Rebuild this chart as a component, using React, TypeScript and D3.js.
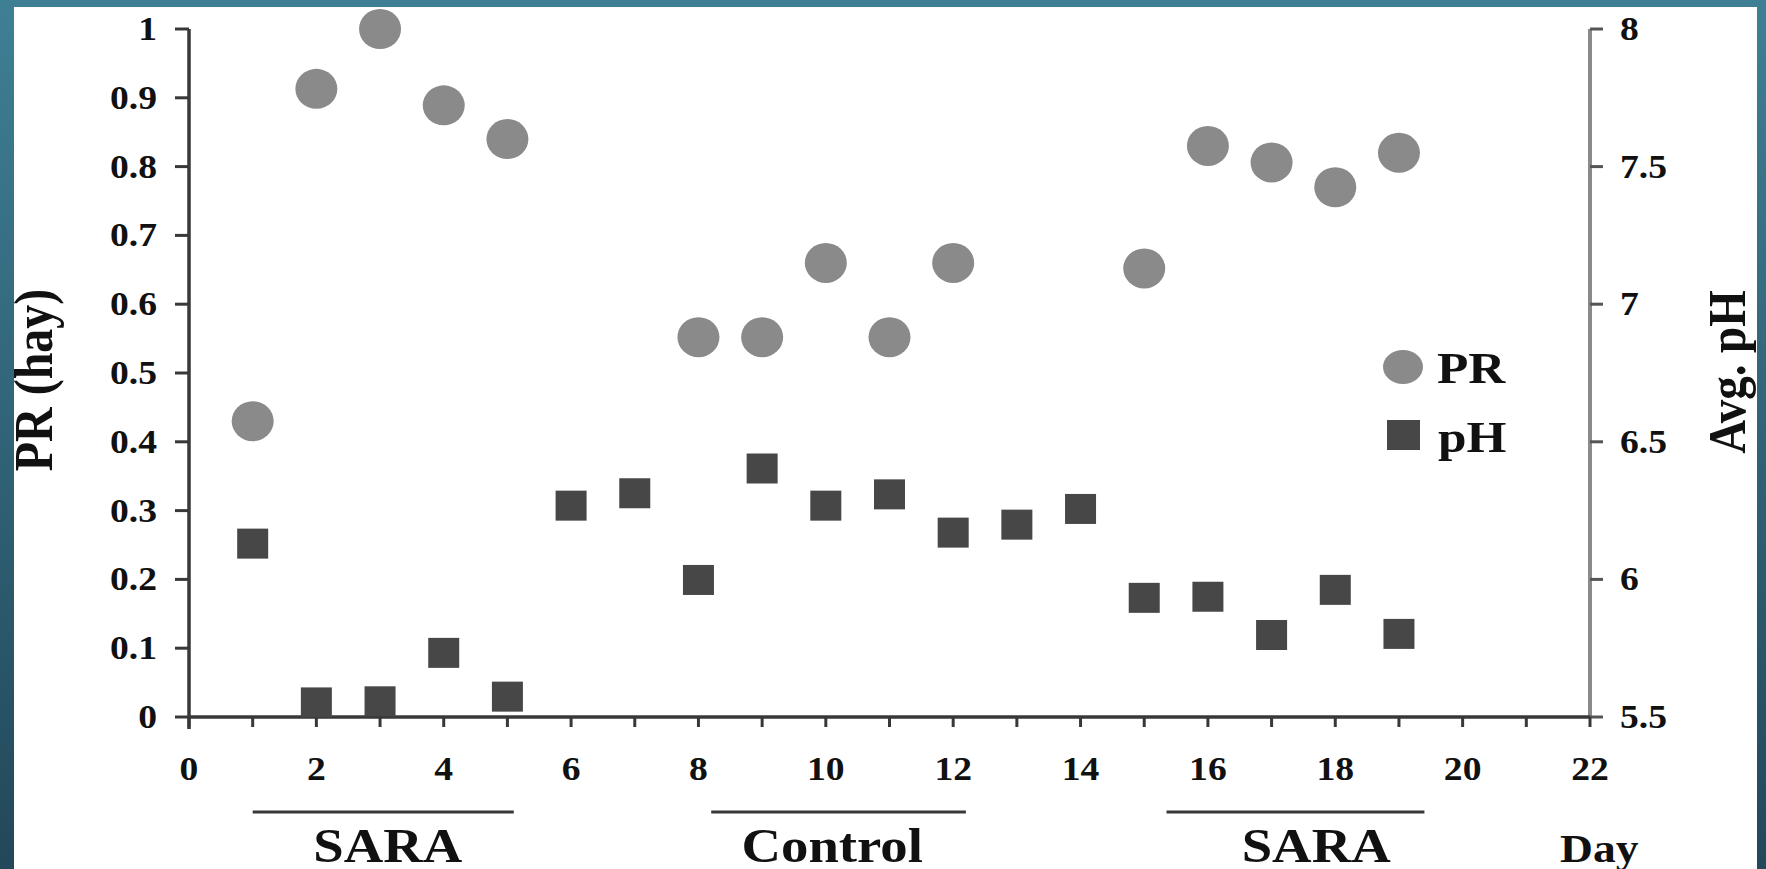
import React, { useEffect } from 'react';
import * as d3 from 'd3';

// days 1..19
const days = [1, 2, 3, 4, 5, 6, 7, 8, 9, 10, 11, 12, 13, 14, 15, 16, 17, 18, 19];

// PR (hay) – only measured on some days
const prDays = [1, 2, 3, 4, 5, 8, 9, 10, 11, 12, 15, 16, 17, 18, 19];
const prValues = [0.43, 0.913, 1.0, 0.889, 0.84, 0.552, 0.552, 0.66, 0.552, 0.66, 0.652, 0.83, 0.806, 0.77, 0.82];

// average pH per day
const phValues = [6.13, 5.553, 5.557, 5.733, 5.574, 6.268, 6.313, 5.998, 6.403, 6.268, 6.309, 6.17, 6.199, 6.256, 5.933, 5.937, 5.798, 5.962, 5.802];

const xTicks = d3.range(0, 23, 1);
const xTickLabels = [0, 2, 4, 6, 8, 10, 12, 14, 16, 18, 20, 22];
const prTicks = [0, 0.1, 0.2, 0.3, 0.4, 0.5, 0.6, 0.7, 0.8, 0.9, 1];
const phTicks = [5.5, 6, 6.5, 7, 7.5, 8];

// treatment periods under the x axis
const periodLabels = ['SARA', 'Control', 'SARA'];
const periodStart = [1.0, 8.2, 15.35];
const periodEnd = [5.1, 12.2, 19.4];
const periodLabelDay = [3.12, 10.1, 17.7];

const W = 1766;
const H = 869;
const SX = 1.14; // the source figure is a bit stretched horizontally
const FONT = '"Liberation Serif", "Times New Roman", serif';

const left = 189;
const right = 1590;
const top = 29;
const bottom = 717;

export default function App() {
  useEffect(() => {
    document.body.style.margin = '0';
    document.body.style.overflow = 'hidden';
  }, []);

  const x = d3.scaleLinear().domain([0, 22]).range([left, right]);
  const yPR = d3.scaleLinear().domain([0, 1]).range([bottom, top]);
  const yPH = d3.scaleLinear().domain([5.5, 8]).range([bottom, top]);
  const fmt = (v: number) => d3.format('~g')(v);

  const txt = (tx: number, ty: number, s: string, size: number, anchor = 'start', rot = false) => (
    <text
      key={`${s}-${tx}-${ty}`}
      transform={`translate(${tx},${ty}) scale(${SX},1)${rot ? ' rotate(-90)' : ''}`}
      textAnchor={anchor}
      fontFamily={FONT}
      fontWeight="bold"
      fontSize={size}
      fill="#111"
    >
      {s}
    </text>
  );

  const border = 'url(#frame)';

  return (
    <svg width={W} height={H} style={{ display: 'block' }}>
      <defs>
        <linearGradient id="frame" x1="0" y1="0" x2="0" y2={H} gradientUnits="userSpaceOnUse">
          <stop offset="0" stopColor="#3f7f95" />
          <stop offset="1" stopColor="#22485a" />
        </linearGradient>
      </defs>
      <rect x={0} y={0} width={W} height={H} fill="#fff" />

      {/* left axis */}
      <line x1={left} x2={left} y1={top} y2={bottom + 12} stroke="#383838" strokeWidth={3.5} />
      {prTicks.map(t => (
        <line key={`lt${t}`} x1={left - 14} x2={left} y1={yPR(t)} y2={yPR(t)} stroke="#383838" strokeWidth={3} />
      ))}
      {prTicks.map(t => txt(157, yPR(t) + 11, fmt(t), 33, 'end'))}

      {/* right axis */}
      <line x1={right} x2={right} y1={top} y2={bottom} stroke="#8a8a8a" strokeWidth={4} />
      {phTicks.map(t => (
        <line key={`rt${t}`} x1={right} x2={right + 13} y1={yPH(t)} y2={yPH(t)} stroke="#555" strokeWidth={3} />
      ))}
      {phTicks.map(t => txt(1620, yPH(t) + 11, fmt(t), 33, 'start'))}

      {/* x axis */}
      <line x1={left} x2={right} y1={bottom} y2={bottom} stroke="#383838" strokeWidth={3.5} />
      {xTicks.map(t => (
        <line key={`xt${t}`} x1={x(t)} x2={x(t)} y1={bottom} y2={bottom + 10} stroke="#383838" strokeWidth={3} />
      ))}
      {xTickLabels.map(t => txt(x(t), 780, String(t), 33, 'middle'))}

      {/* pH squares */}
      {days.map((d, i) => (
        <rect key={`ph${d}`} x={x(d) - 15.5} y={yPH(phValues[i]) - 15} width={31} height={30} fill="#474747" />
      ))}

      {/* PR circles */}
      {prDays.map((d, i) => (
        <ellipse key={`pr${d}`} cx={x(d)} cy={yPR(prValues[i])} rx={21} ry={20} fill="#8a8a8a" />
      ))}

      {/* legend */}
      <ellipse cx={1403} cy={367} rx={20} ry={17} fill="#8a8a8a" />
      {txt(1437, 383, 'PR', 45)}
      <rect x={1387} y={420} width={33} height={30} fill="#474747" />
      {txt(1438, 452, 'pH', 45)}

      {/* treatment periods */}
      {periodLabels.map((p, i) => (
        <g key={`per${i}`}>
          <line x1={x(periodStart[i])} x2={x(periodEnd[i])} y1={812} y2={812} stroke="#383838" strokeWidth={3} />
          {txt(x(periodLabelDay[i]), 862, p, 48, 'middle')}
        </g>
      ))}
      {txt(1560, 862, 'Day', 40)}

      {/* axis titles */}
      {txt(52, 380, 'PR (hay)', 48, 'middle', true)}
      {txt(1745, 372, 'Avg. pH', 47, 'middle', true)}

      {/* frame on top */}
      <rect x={0} y={0} width={W} height={7} fill={border} />
      <rect x={0} y={0} width={14} height={H} fill={border} />
      <rect x={1757} y={0} width={W - 1757} height={H} fill={border} />
    </svg>
  );
}
